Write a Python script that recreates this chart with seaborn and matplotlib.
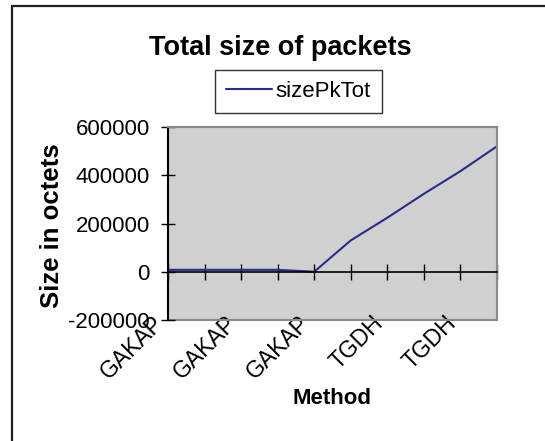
import numpy as np
import pandas as pd
import matplotlib
matplotlib.use("Agg")
import matplotlib.pyplot as plt
import matplotlib.transforms as mtransforms
from matplotlib.lines import Line2D
import seaborn as sns

# Data
methods = ["GAKAP", "GAKAP", "GAKAP", "GAKAP", "GAKAP",
           "TGDH", "TGDH", "TGDH", "TGDH", "TGDH"]
size_pk_tot = [8000, 8000, 8000, 8000, 0, 130000, 224000, 323000, 417000, 520000]
y_ticks = [-200000, 0, 200000, 400000, 600000]

df = pd.DataFrame({"pos": np.arange(len(methods)),
                   "Method": methods,
                   "sizePkTot": size_pk_tot})

sns.set_theme(style="white")
plt.rcParams["font.family"] = ["Liberation Sans", "DejaVu Sans"]
plt.rcParams["text.color"] = "black"
plt.rcParams["axes.labelcolor"] = "black"
plt.rcParams["xtick.color"] = "black"
plt.rcParams["ytick.color"] = "black"

W, H = 545, 441
fig = plt.figure(figsize=(W / 100, H / 100), dpi=100)
fig.patch.set_facecolor("white")

x0, x1, y0, y1 = 168, 497, 127, 320
ax = fig.add_axes([x0 / W, 1 - y1 / H, (x1 - x0) / W, (y1 - y0) / H])
ax.set_facecolor("#d0d0d0")

line_color = "#2b2b88"
sns.lineplot(data=df, x="pos", y="sizePkTot", ax=ax, color=line_color,
             linewidth=1.5, legend=False)

ax.set_xlim(0, len(methods) - 1)
ax.set_ylim(y_ticks[0], y_ticks[-1])
ax.set_yticks(y_ticks)
ax.set_yticklabels([f"{v:d}" for v in y_ticks])
ax.set_xticks(df["pos"])
ax.set_xlabel("")
ax.set_ylabel("")

# category axis crosses at zero
ax.spines["bottom"].set_position(("data", 0))
ax.spines["bottom"].set_color("black")
ax.spines["bottom"].set_linewidth(1.2)
ax.spines["left"].set_color("black")
ax.spines["left"].set_linewidth(1.5)
for s in ("top", "right"):
    ax.spines[s].set_color("#8a8a8a")
    ax.spines[s].set_linewidth(1.5)

ax.tick_params(axis="x", direction="inout", length=12, width=1.0,
               color="black", labelbottom=False, bottom=True)
ax.tick_params(axis="y", direction="inout", length=10, width=1.0,
               color="black", left=True, pad=8.0, labelsize=16,
               labelcolor="black")

# category labels along the bottom edge of the plot area
sec = ax.secondary_xaxis(0)
sec.set_xticks(df["pos"][::2])
sec.set_xticklabels(df["Method"][::2])
sec.spines["bottom"].set_color("#8a8a8a")
sec.spines["bottom"].set_linewidth(1.5)
sec.tick_params(axis="x", length=0, pad=0, labelsize=16.5, labelcolor="black")
off = mtransforms.ScaledTranslation(-16 / 100, 9 / 100, fig.dpi_scale_trans)
for lab in sec.get_xticklabels():
    lab.set_rotation(45)
    lab.set_ha("right")
    lab.set_va("top")
    lab.set_rotation_mode("anchor")
    lab.set_transform(lab.get_transform() + off)

# titles
fig.text(280 / W, 1 - 55 / H, "Total size of packets", ha="center",
         va="baseline", fontsize=19.5, fontweight="bold")
fig.text(332 / W, 1 - 404 / H, "Method", ha="center", va="baseline",
         fontsize=16, fontweight="bold")
fig.text(52 / W, 1 - 225.5 / H, "Size in octets", ha="center", va="center",
         rotation=90, fontsize=18.5, fontweight="bold")

# legend
handles = [Line2D([], [], color=line_color, linewidth=1.5)]
leg = fig.legend(handles, ["sizePkTot"], loc="center",
                 bbox_to_anchor=(298.5 / W, 1 - 91.5 / H),
                 fontsize=16, frameon=True, fancybox=False,
                 handlelength=2.05, handletextpad=0.15, borderpad=0.5,
                 borderaxespad=0)
leg.get_frame().set_edgecolor("black")
leg.get_frame().set_linewidth(1.0)

# chart frame
fig.add_artist(Line2D([12 / W, 12 / W], [0, 1 - 6 / H], color="#222222",
                      linewidth=1.6, transform=fig.transFigure))
fig.add_artist(Line2D([12 / W, 1], [1 - 6 / H, 1 - 6 / H], color="#222222",
                      linewidth=1.6, transform=fig.transFigure))

fig.savefig("out.png", dpi=100)
